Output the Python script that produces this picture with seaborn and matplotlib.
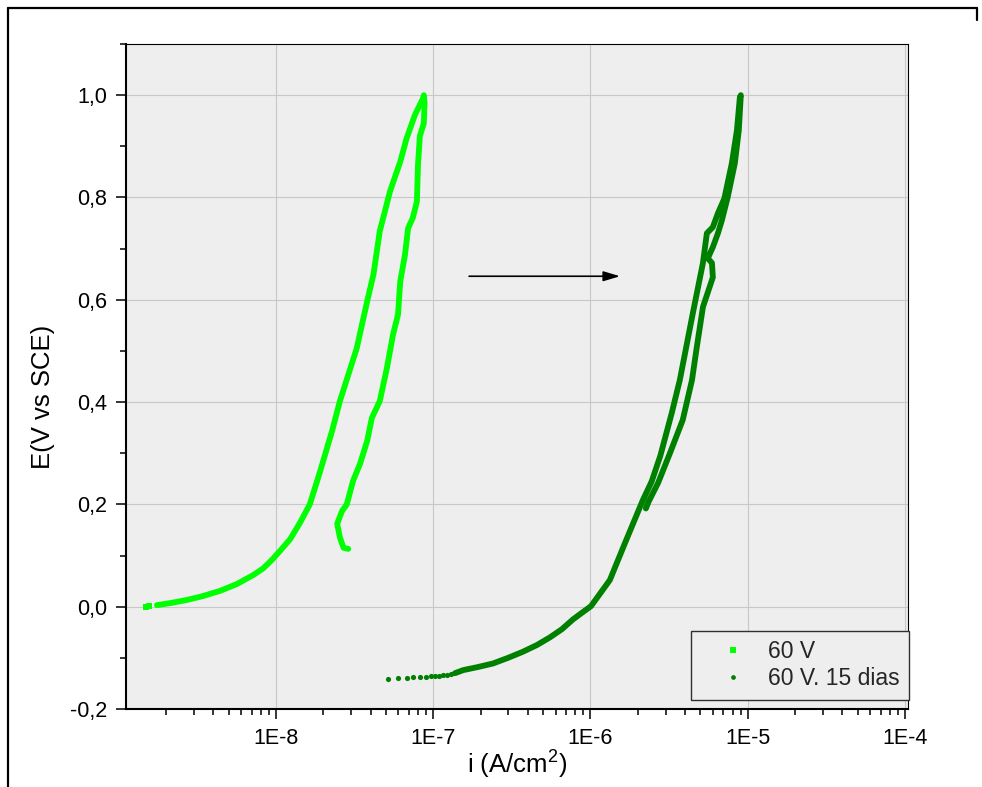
import matplotlib
matplotlib.use("Agg")
import matplotlib.pyplot as plt
from matplotlib.lines import Line2D
from matplotlib.ticker import FuncFormatter, FixedLocator, MultipleLocator, NullFormatter
import numpy as np
import seaborn as sns

# ---- Polarization data: current density (A/cm²) and potential (V vs SCE) ----
# 60 V anodized sample, forward sweep followed by reverse sweep
i_60v_start = [1.48e-9, 1.55e-9]
e_60v_start = [0.000, 0.001]
i_60v = [1.75e-9, 2.12e-9, 2.70e-9, 3.45e-9, 4.41e-9, 5.62e-9, 7.18e-9, 8.30e-9,
         9.39e-9, 1.06e-8, 1.23e-8, 1.42e-8, 1.64e-8,
         1.91e-8, 2.27e-8, 2.55e-8, 3.26e-8, 3.80e-8, 4.17e-8, 4.57e-8, 5.31e-8,
         6.17e-8, 6.76e-8, 7.66e-8, 8.59e-8, 8.71e-8,
         8.81e-8, 8.71e-8, 8.22e-8, 8.00e-8, 7.87e-8, 7.41e-8, 6.92e-8, 6.61e-8,
         6.17e-8, 5.97e-8, 5.55e-8, 5.07e-8, 4.57e-8, 4.07e-8, 3.80e-8, 3.42e-8,
         3.09e-8, 2.82e-8, 2.63e-8, 2.45e-8, 2.55e-8, 2.69e-8, 2.88e-8]
e_60v = [0.003, 0.007, 0.013, 0.021, 0.031, 0.044, 0.062, 0.075,
         0.091, 0.109, 0.132, 0.164, 0.200,
         0.265, 0.343, 0.402, 0.505, 0.597, 0.650, 0.734, 0.812,
         0.870, 0.915, 0.962, 0.993, 1.000,
         0.985, 0.945, 0.920, 0.864, 0.792, 0.760, 0.740, 0.688,
         0.636, 0.571, 0.532, 0.466, 0.402, 0.369, 0.324, 0.279,
         0.246, 0.200, 0.187, 0.162, 0.135, 0.115, 0.113]

# 60 V sample after 15 days of immersion
i_15d_start = [5.18e-8, 5.98e-8, 6.78e-8, 7.46e-8, 8.22e-8, 8.99e-8, 9.62e-8,
               1.023e-7, 1.091e-7, 1.156e-7, 1.216e-7, 1.288e-7]
e_15d_start = [-0.141, -0.140, -0.139, -0.138, -0.137, -0.137, -0.136,
               -0.135, -0.135, -0.134, -0.133, -0.132]
i_15d = [1.374e-7, 1.55e-7, 1.92e-7, 2.40e-7, 2.99e-7, 3.72e-7, 4.56e-7, 5.52e-7,
         6.58e-7, 7.73e-7, 8.81e-7, 1.007e-6,
         1.327e-6, 1.66e-6, 2.15e-6, 2.45e-6, 2.78e-6, 3.289e-6, 3.698e-6, 4.477e-6,
         5.188e-6, 5.495e-6, 5.998e-6, 6.457e-6, 7.10e-6, 7.925e-6, 8.531e-6,
         8.913e-6, 9.036e-6,
         8.77e-6, 8.28e-6, 7.45e-6, 6.84e-6, 6.46e-6, 6.00e-6, 5.57e-6,
         5.92e-6, 6.00e-6, 5.19e-6, 4.74e-6, 4.42e-6, 3.86e-6, 3.20e-6, 2.69e-6,
         2.34e-6, 2.25e-6]
e_15d = [-0.130, -0.124, -0.118, -0.111, -0.100, -0.088, -0.075, -0.060,
         -0.044, -0.025, -0.012, 0.001,
         0.052, 0.125, 0.208, 0.245, 0.295, 0.379, 0.443, 0.574,
         0.672, 0.730, 0.742, 0.769, 0.798, 0.867, 0.931,
         0.996, 1.000,
         0.931, 0.867, 0.800, 0.755, 0.730, 0.703, 0.681,
         0.672, 0.644, 0.586, 0.507, 0.443, 0.365, 0.300, 0.242,
         0.205, 0.192]

labels = ["60 V", "60 V. 15 dias"]
colors = ["#00ff00", "#008000"]

# shift arrow between the two curves
arrow_from = (1.69e-7, 0.646)
arrow_to = (1.54e-6, 0.646)

x_ticks = [1e-8, 1e-7, 1e-6, 1e-5, 1e-4]

sns.set_theme(style="whitegrid")
plt.rcParams["font.family"] = ["Liberation Sans", "DejaVu Sans"]
plt.rcParams["mathtext.default"] = "regular"

fig = plt.figure(figsize=(9.82, 7.87), dpi=100)
ax = fig.add_axes([126 / 982, 1 - 709 / 787, 782 / 982, 665 / 787])
ax.set_facecolor("#eeeeee")
ax.set_xscale("log")

sns.lineplot(x=i_60v, y=e_60v, sort=False, estimator=None, color=colors[0],
             linewidth=4.2, ax=ax, legend=False)
sns.scatterplot(x=i_60v_start, y=e_60v_start, marker="s", s=22, color=colors[0],
                linewidth=0, ax=ax, legend=False)
sns.lineplot(x=i_15d, y=e_15d, sort=False, estimator=None, color=colors[1],
             linewidth=4.2, ax=ax, legend=False)
sns.scatterplot(x=i_15d_start, y=e_15d_start, marker="o", s=14, color=colors[1],
                linewidth=0, ax=ax, legend=False)

ax.annotate("", xy=arrow_to, xytext=arrow_from,
            arrowprops=dict(arrowstyle="-|>,head_length=1.0,head_width=0.3",
                            color="black", lw=1.2, mutation_scale=10,
                            shrinkA=0, shrinkB=0))

ax.set_xlim(1.112e-9, 1.045e-4)
ax.set_ylim(-0.2, 1.1)

# axis ticks
minor_x = [m * 10.0 ** k for k in range(-9, -4) for m in range(2, 10)]
ax.xaxis.set_major_locator(FixedLocator(x_ticks))
ax.xaxis.set_minor_locator(FixedLocator(minor_x))
ax.xaxis.set_minor_formatter(NullFormatter())
ax.xaxis.set_major_formatter(FuncFormatter(lambda v, p: f"1E{int(round(np.log10(v)))}"))
ax.yaxis.set_major_locator(MultipleLocator(0.2))
ax.yaxis.set_minor_locator(MultipleLocator(0.1))
ax.yaxis.set_major_formatter(FuncFormatter(lambda v, p: f"{v:.1f}".replace(".", ",")))

ax.tick_params(axis="both", which="major", direction="out", length=7.5, width=1.1,
               color="black", labelsize=15.5, labelcolor="black", pad=6,
               bottom=True, left=True, top=False, right=False)
ax.tick_params(axis="both", which="minor", direction="out", length=4, width=1.1,
               color="black", bottom=True, left=True, top=False, right=False)

ax.grid(True, which="major", color="#c8c8c8", linewidth=0.8)
ax.grid(False, which="minor")

for side in ["left", "bottom"]:
    ax.spines[side].set_color("black")
    ax.spines[side].set_linewidth(1.5)
for side in ["top", "right"]:
    ax.spines[side].set_color("black")
    ax.spines[side].set_linewidth(0.8)

ax.set_xlabel("i (A/cm$^2$)", fontsize=18.5, color="black", labelpad=0)
ax.set_ylabel("E(V vs SCE)", fontsize=18.5, color="black")
ax.yaxis.set_label_coords(-0.091, 0.47)

handles = [
    Line2D([], [], linestyle="none", marker="s", markersize=3.8,
           color=colors[0], markeredgewidth=0),
    Line2D([], [], linestyle="none", marker="o", markersize=3.4,
           color=colors[1], markeredgewidth=0),
]
leg = ax.legend(handles, labels, loc="lower right", bbox_to_anchor=(1.001, 0.0135),
                borderaxespad=0, fontsize=16.5, frameon=True, fancybox=False,
                framealpha=1, facecolor="#eeeeee", edgecolor="#303030",
                borderpad=0.42, handlelength=2.8, handletextpad=0.1,
                labelspacing=0.18)
leg.get_frame().set_linewidth(1.0)

# outer frame of the figure
W, H = 982, 787
frame_kw = dict(color="black", linewidth=1.6, transform=fig.transFigure)
fig.add_artist(Line2D([8 / W, 8 / W], [1 - 8 / H, 0], **frame_kw))
fig.add_artist(Line2D([8 / W, 977 / W], [1 - 8 / H, 1 - 8 / H], **frame_kw))
fig.add_artist(Line2D([977 / W, 977 / W], [1 - 8 / H, 1 - 20 / H], **frame_kw))

fig.savefig("out.png", dpi=100, facecolor="white")
